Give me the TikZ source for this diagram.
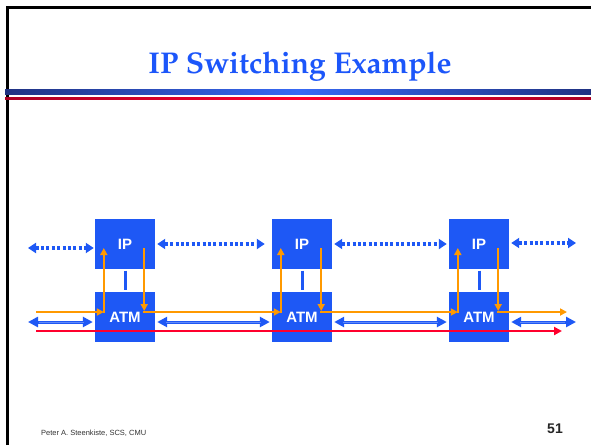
\documentclass[tikz,border=0pt]{standalone}
\usepackage[T1]{fontenc}
\usepackage{fontspec}
\setmainfont{Liberation Sans}
\usetikzlibrary{arrows.meta}
\definecolor{boxblue}{RGB}{30,88,245}
\definecolor{titleblue}{RGB}{28,86,250}
\definecolor{orng}{RGB}{255,153,0}
\definecolor{rd}{RGB}{255,0,45}
\definecolor{navy}{RGB}{32,50,130}
\definecolor{brightblue}{RGB}{55,105,245}
\definecolor{darkred}{RGB}{170,0,35}
\newcommand{\titlefont}{\fontencoding{T1}\fontfamily{ppl}\fontseries{b}\selectfont}
\tikzset{
  box/.style={fill=boxblue, minimum width=60pt, minimum height=50pt, inner sep=0pt,
    text=white, font=\fontsize{15}{15}\selectfont\bfseries},
  dotarrow/.style={draw=boxblue, line width=3.2pt, dash pattern=on 3pt off 2.4pt,
    {Triangle[length=8pt,width=10pt]}-{Triangle[length=8pt,width=10pt]}},
  solidarrow/.style={draw=boxblue, line width=3pt,
    {Triangle[length=10pt,width=10pt]}-{Triangle[length=10pt,width=10pt]}},
  core/.style={draw=boxblue!70!white, line width=0.6pt, shorten <=11pt, shorten >=11pt},
  orarrow/.style={draw=orng, line width=2pt, -{Triangle[length=7pt,width=7pt]}},
  redarrow/.style={draw=rd, line width=2.2pt, -{Triangle[length=8pt,width=8pt]}},
  vbar/.style={draw=boxblue, line width=3pt, shorten <=1.5pt, shorten >=1.5pt},
}
\begin{document}
\begin{tikzpicture}[x=1pt,y=-1pt]
\useasboundingbox[fill=white] (0,0) rectangle (591,445);
% frame
\draw[line width=2.6pt, black] (7.5,445) -- (7.5,7.5) -- (591,7.5);
% header bars
\shade[left color=navy, right color=navy, middle color=brightblue] (5,89) rectangle (591,94.5);
\shade[left color=darkred, right color=darkred, middle color=rd] (5,97) rectangle (591,99.5);
% title
\node[text=titleblue, font=\titlefont\fontsize{30}{30}\selectfont] (title) at (300,66) {IP Switching Example};
% boxes
\foreach \i/\x in {1/125,2/302,3/479}{
  \node[box] (IP\i) at (\x,244) {IP};
  \node[box] (ATM\i) at (\x,317) {ATM};
  \draw[vbar] (IP\i.south) -- (ATM\i.north);
}
% free ends
\coordinate (DL) at (28,248);
\coordinate (DR) at (576,243);
\coordinate (SL) at (28,322);
\coordinate (SR) at (576,322);
\coordinate (OL) at (36,312);
\coordinate (OR) at (567,312);
\coordinate (RL) at (36,331);
\coordinate (RR) at (562,331);
% dotted IP-level arrows
\draw[dotarrow, shorten >=1pt] (DL) -- (IP1.west |- DL);
\draw[dotarrow, shorten <=2pt, shorten >=7pt] (IP1.east) -- (IP2.west);
\draw[dotarrow, shorten <=2pt, shorten >=2pt] (IP2.east) -- (IP3.west);
\draw[dotarrow, shorten <=2pt] (IP3.east |- DR) -- (DR);
% solid ATM-level arrows
\draw[solidarrow, shorten >=2pt] (SL) -- (ATM1.west |- SL);
\draw[core] (SL) -- (ATM1.west |- SL);
\foreach \a/\b in {1/2,2/3}{
  \draw[solidarrow, shorten <=2pt, shorten >=2pt] (ATM\a.east |- SL) -- (ATM\b.west |- SL);
  \draw[core] (ATM\a.east |- SL) -- (ATM\b.west |- SL);
}
\draw[solidarrow, shorten <=2pt] (ATM3.east |- SR) -- (SR);
\draw[core] (ATM3.east |- SR) -- (SR);
% red path
\draw[redarrow] (RL) -- (RR);
% orange path
\draw[orarrow] (OL) -- ([shift={(9,-5)}]ATM1.west);
\foreach \i in {1,2,3}{
  \draw[orarrow] ([shift={(9,-4)}]ATM\i.west) -- ([shift={(9,4)}]IP\i.west);
  \draw[orarrow] ([shift={(-11,4)}]IP\i.east) -- ([shift={(-11,-6)}]ATM\i.east);
}
\foreach \a/\b in {1/2,2/3}{
  \draw[orarrow] ([shift={(-12,-5)}]ATM\a.east) -- ([shift={(9,-5)}]ATM\b.west);
}
\draw[orarrow] ([shift={(-12,-5)}]ATM3.east) -- (OR);
% footer
\node[anchor=west, text=black!80, font=\fontsize{7.5}{8}\selectfont, inner sep=0pt] (foot) at (41,433) {Peter A. Steenkiste, SCS, CMU};
\node[text=black!85, font=\fontsize{14}{14}\selectfont\bfseries, inner sep=0pt] (num) at (555,429) {51};
\end{tikzpicture}
\end{document}
